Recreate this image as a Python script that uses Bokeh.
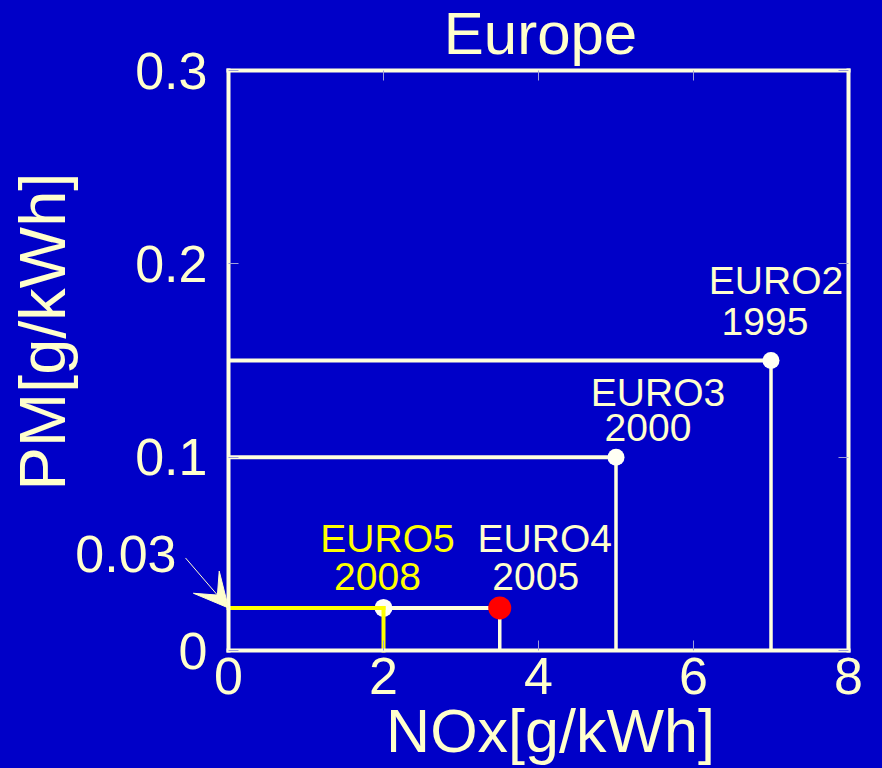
import math
from bokeh.plotting import figure
from bokeh.models import (Range1d, LinearAxis, FixedTicker, Label, Arrow, VeeHead,
                          ColumnDataSource)
from bokeh.embed import file_html
from bokeh.resources import INLINE

# ---- data ----
standards = ["EURO2", "EURO3", "EURO4", "EURO5"]
years = ["1995", "2000", "2005", "2008"]
nox = [7.0, 5.0, 3.5, 2.0]          # g/kWh
pm = [0.15, 0.10, 0.022, 0.022]     # g/kWh
x_ticks = [0, 2, 4, 6, 8]
y_ticks = [0, 0.1, 0.2, 0.3]
y_tick_labels = ["0", "0.1", "0.2", "0.3"]
callout_text = "0.03"
title_text = "Europe"
x_title = "NOx[g/kWh]"
y_title = "PM[g/kWh]"

# ---- styles / geometry ----
BG = "#0000C8"
CREAM = "#FFFFCC"
LINE = "#FFFFDD"
YELLOW = "#FFFF00"
TICK = "#A0A0D8"
FONT = "Liberation Sans"
W, H = 882, 768
BOX_L, BOX_R, BOX_T, BOX_B = 228, 848, 70, 650

line_colors = [LINE, LINE, LINE, YELLOW]
marker_colors = ["#FFFFF4", "#FFFFF4", "#FF0000", "#FFFFF4"]
marker_sizes = [17, 17, 23, 18]
label_colors = [CREAM, CREAM, CREAM, YELLOW]
name_dx = [5, 42, 45, 4]
name_dy = [-80, -65, -69, -69]
year_dx = [-6, 32, 36, -6]
year_dy = [-39, -30, -31, -31]

px_x = (BOX_R - BOX_L) / (x_ticks[-1] - x_ticks[0])
px_y = (BOX_B - BOX_T) / (y_ticks[-1] - y_ticks[0])
x_lo = x_ticks[0] - BOX_L / px_x
x_hi = x_ticks[-1] + (W - BOX_R) / px_x
y_lo = y_ticks[0] - (H - BOX_B) / px_y
y_hi = y_ticks[-1] + BOX_T / px_y

p = figure(frame_width=W, frame_height=H, min_border=0,
           x_range=Range1d(x_lo, x_hi), y_range=Range1d(y_lo, y_hi),
           x_axis_location=None, y_axis_location=None,
           output_backend="svg", toolbar_location=None)
p.background_fill_color = BG
p.border_fill_color = BG
p.outline_line_color = None
p.xgrid.visible = False
p.ygrid.visible = False


def make_axis(ticks, loc, bounds, show_labels):
    ax = LinearAxis(ticker=FixedTicker(ticks=ticks), fixed_location=loc, bounds=bounds)
    ax.axis_line_color = LINE
    ax.axis_line_width = 4
    ax.axis_line_cap = "square"
    ax.major_tick_in = 10
    ax.major_tick_out = 0
    ax.major_tick_line_color = TICK
    ax.major_tick_line_width = 1
    ax.minor_tick_line_color = None
    ax.major_label_text_font = FONT
    ax.major_label_text_font_size = "52px"
    ax.major_label_text_color = CREAM if show_labels else None
    return ax


bottom = make_axis(x_ticks, y_ticks[0], (x_ticks[0], x_ticks[-1]), True)
bottom.major_label_standoff = 7
left = make_axis(y_ticks, x_ticks[0], (y_ticks[0], y_ticks[-1]), True)
left.major_label_standoff = 21
left.major_label_overrides = {t: s for t, s in zip(y_ticks, y_tick_labels)}
top = make_axis(x_ticks, y_ticks[-1], (x_ticks[0], x_ticks[-1]), False)
right = make_axis(y_ticks, x_ticks[-1], (y_ticks[0], y_ticks[-1]), False)

# ---- limit boxes ----
zeros = [0] * len(nox)
h = dict(x0=zeros, y0=pm, x1=nox, y1=pm, c=line_colors)
v = dict(x0=nox, y0=pm, x1=nox, y1=zeros, c=line_colors)
p.segment(x0="x0", y0="y0", x1="x1", y1="y1", line_color="c", line_width=4,
          source=ColumnDataSource({k: val[:3] for k, val in h.items()}))
p.segment(x0="x0", y0="y0", x1="x1", y1="y1", line_color="c", line_width=3.5,
          source=ColumnDataSource({k: val[:3] for k, val in v.items()}))
p.scatter(x=nox, y=pm, size=marker_sizes, fill_color=marker_colors,
          line_color=None, marker="circle")
p.segment(x0="x0", y0="y0", x1="x1", y1="y1", line_color="c", line_width=4,
          line_cap="square",
          source=ColumnDataSource({k: val[3:] for k, val in h.items()}))
p.segment(x0="x0", y0="y0", x1="x1", y1="y1", line_color="c", line_width=4,
          line_cap="square",
          source=ColumnDataSource({k: val[3:] for k, val in v.items()}))

# axes drawn over the boxes
p.add_layout(bottom, "below")
p.add_layout(left, "left")
p.add_layout(top, "above")
p.add_layout(right, "right")

lab = ColumnDataSource(dict(x=nox, y=pm, name=standards, year=years, c=label_colors,
                            ndx=name_dx, ndy=name_dy, ydx=year_dx, ydy=year_dy))
p.text(x="x", y="y", text="name", x_offset="ndx", y_offset="ndy", text_color="c",
       text_align="center", text_baseline="alphabetic", text_font_size="39px",
       text_font={"value": FONT}, source=lab)
p.text(x="x", y="y", text="year", x_offset="ydx", y_offset="ydy", text_color="c",
       text_align="center", text_baseline="alphabetic", text_font_size="39px",
       text_font={"value": FONT}, source=lab)

# ---- title and axis titles ----
p.add_layout(Label(x=(x_ticks[0] + x_ticks[-1]) / 2 + 2 / px_x,
                   y=y_ticks[-1] + 37 / px_y, text=title_text,
                   text_align="center", text_baseline="alphabetic",
                   text_font=FONT, text_font_size="60px", text_color=CREAM))
p.add_layout(Label(x=(x_ticks[0] + x_ticks[-1]) / 2 + 12 / px_x,
                   y=y_ticks[0] - 80 / px_y, text=x_title,
                   text_align="center", text_baseline="alphabetic",
                   text_font=FONT, text_font_size="61px", text_color=CREAM))
p.add_layout(Label(x=x_ticks[0] - 186 / px_x,
                   y=(y_ticks[0] + y_ticks[-1]) / 2 + 29 / px_y, text=y_title,
                   angle=math.pi / 2, text_align="center", text_baseline="alphabetic",
                   text_font=FONT, text_font_size="65px", text_color=CREAM))

# ---- 0.03 callout with arrow ----
p.add_layout(Label(x=x_ticks[0] - 52 / px_x, y=pm[3] + 54 / px_y, text=callout_text,
                   text_align="right", text_baseline="alphabetic",
                   text_font=FONT, text_font_size="52px", text_color=CREAM))
p.add_layout(Arrow(x_start=x_ticks[0] - 43 / px_x, y_start=pm[3] + 50 / px_y,
                   x_end=x_ticks[0], y_end=pm[3], line_color=CREAM, line_width=1,
                   end=VeeHead(size=34, fill_color=CREAM, line_color=CREAM,
                               line_width=1)))

html = file_html(p, INLINE)
html = html.replace("</head>", "<style>body{background:%s;}</style></head>" % BG, 1)
open("out.html", "w").write(html)
